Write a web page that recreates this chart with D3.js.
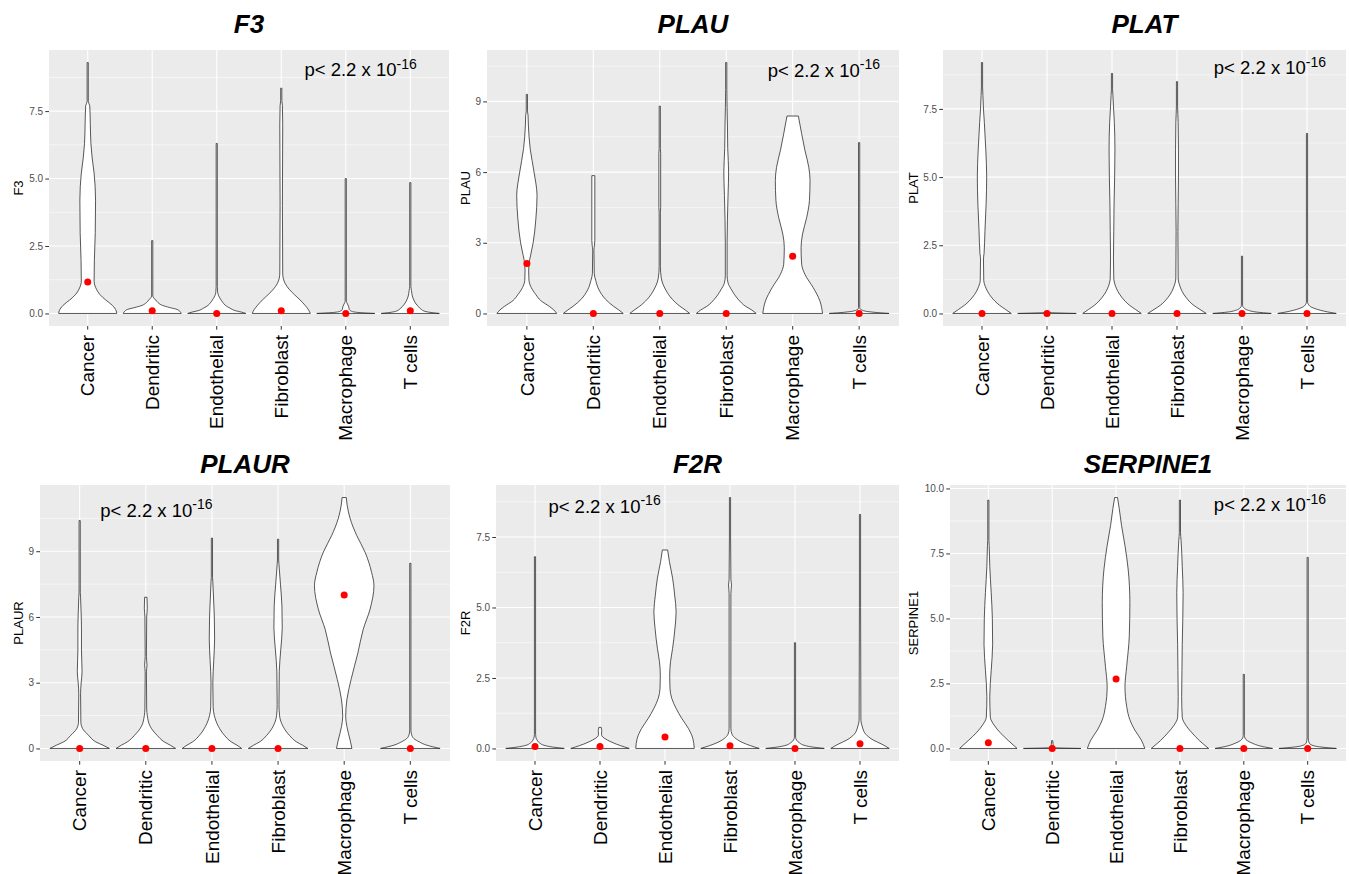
<!DOCTYPE html>
<html>
<head>
<meta charset="utf-8">
<script src="https://cdn.jsdelivr.net/npm/d3@7"></script>
<style>
  body { margin: 0; background: #fff; }
  svg { display: block; font-family: "Liberation Sans", Arial, sans-serif; }
</style>
</head>
<body>
<div id="chart"></div>
<script>
const cellTypes = ["Cancer", "Dendritic", "Endothelial", "Fibroblast", "Macrophage", "T cells"]
const genes = ["F3", "PLAU", "PLAT", "PLAUR", "F2R", "SERPINE1"]

// violin outlines, one per cell type: [expression, relative width (1 = widest)]
const f3Shapes = [
  [[0,1],[0.1,0.98],[0.3,0.85],[0.5,0.62],[0.7,0.42],[0.9,0.3],[1.2,0.22],[2,0.23],[3,0.26],[4.2,0.27],[5.2,0.22],[5.8,0.15],[6.3,0.11],[7,0.09],[7.7,0.07],[7.85,0.02],[9.3,0.02]],
  [[0,1],[0.08,0.95],[0.15,0.85],[0.22,0.6],[0.3,0.35],[0.4,0.2],[0.5,0.12],[0.58,0.05],[0.65,0.02],[2.7,0.02]],
  [[0,1],[0.05,0.85],[0.1,0.65],[0.2,0.45],[0.3,0.3],[0.42,0.2],[0.55,0.12],[0.67,0.06],[0.8,0.03],[1,0.02],[6.3,0.02]],
  [[0,1],[0.15,0.93],[0.3,0.82],[0.5,0.65],[0.7,0.45],[0.9,0.27],[1.1,0.14],[1.3,0.07],[1.5,0.05],[4,0.04],[7,0.05],[7.7,0.04],[7.9,0.02],[8.35,0.02]],
  [[0,1],[0.03,0.5],[0.08,0.2],[0.15,0.12],[0.25,0.1],[0.35,0.06],[0.45,0.02],[5,0.02]],
  [[0,1],[0.03,0.75],[0.08,0.5],[0.15,0.38],[0.25,0.28],[0.35,0.2],[0.5,0.12],[0.65,0.07],[0.85,0.04],[1,0.02],[4.85,0.02]]
]
const plauShapes = [
  [[0,1],[0.15,0.9],[0.3,0.75],[0.55,0.46],[0.8,0.3],[1,0.19],[1.2,0.11],[1.4,0.07],[1.8,0.06],[2.1,0.07],[2.5,0.13],[3,0.21],[4,0.3],[5,0.34],[6,0.24],[7,0.11],[8,0.05],[8.4,0.04],[8.6,0.02],[9.3,0.02]],
  [[0,1],[0.15,0.85],[0.3,0.68],[0.6,0.41],[1,0.19],[1.4,0.08],[1.7,0.03],[2.7,0.02],[2.9,0.04],[3.1,0.05],[5.85,0.05]],
  [[0,1],[0.15,0.85],[0.3,0.68],[0.6,0.42],[1,0.2],[1.5,0.05],[2,0.02],[4.3,0.02],[4.5,0.03],[6.8,0.03],[7,0.02],[8.8,0.02]],
  [[0,1],[0.15,0.85],[0.3,0.65],[0.6,0.4],[1,0.18],[1.3,0.06],[1.6,0.03],[3,0.03],[4,0.04],[5,0.06],[6,0.08],[7,0.05],[8,0.04],[9.5,0.02],[10.65,0.02]],
  [[0,1],[0.53,0.91],[1.09,0.69],[1.66,0.41],[2.09,0.3],[2.8,0.28],[3.37,0.33],[4.08,0.47],[4.79,0.56],[5.64,0.58],[6.2,0.54],[6.92,0.41],[7.63,0.3],[8.38,0.19]],
  [[0,1],[0.05,0.5],[0.1,0.2],[0.15,0.08],[0.2,0.03],[0.25,0.02],[7.25,0.02]]
]
const platShapes = [
  [[0,1],[0.15,0.8],[0.3,0.6],[0.6,0.32],[1,0.11],[1.2,0.06],[2,0.05],[2.2,0.07],[3,0.1],[4,0.14],[5,0.16],[6,0.13],[7,0.08],[7.5,0.05],[8,0.03],[8.3,0.02],[9.2,0.02]],
  [[0,1],[0.02,0.3],[0.04,0.02],[0.06,0.01]],
  [[0,1],[0.15,0.8],[0.3,0.6],[0.6,0.33],[1,0.12],[1.3,0.06],[2,0.05],[3,0.06],[4,0.07],[5,0.09],[6,0.1],[7,0.08],[7.6,0.05],[8,0.03],[8.2,0.02],[8.8,0.02]],
  [[0,1],[0.15,0.78],[0.3,0.57],[0.6,0.3],[1,0.1],[1.3,0.04],[3,0.03],[4,0.04],[5,0.05],[6,0.05],[7,0.04],[7.6,0.02],[8.5,0.02]],
  [[0,1],[0.05,0.5],[0.12,0.2],[0.2,0.07],[0.25,0.03],[0.3,0.02],[2.1,0.02]],
  [[0,1],[0.08,0.6],[0.15,0.35],[0.25,0.12],[0.35,0.04],[0.4,0.02],[6.6,0.02]]
]
const plaurShapes = [
  [[0,1],[0.15,0.78],[0.3,0.54],[0.6,0.3],[0.9,0.1],[1.2,0.04],[2.5,0.03],[3,0.05],[3.5,0.08],[4,0.07],[4.5,0.06],[5.5,0.06],[6.5,0.04],[6.9,0.03],[7.1,0.02],[10.4,0.02]],
  [[0,1],[0.15,0.82],[0.3,0.62],[0.6,0.38],[1,0.15],[1.5,0.05],[1.8,0.03],[3.5,0.02],[3.8,0.04],[4.2,0.02],[6,0.03],[6.4,0.05],[6.9,0.04]],
  [[0,1],[0.15,0.84],[0.3,0.65],[0.6,0.42],[1,0.22],[1.5,0.08],[1.9,0.04],[3,0.03],[4,0.06],[5,0.09],[6,0.08],[7,0.05],[7.6,0.03],[7.8,0.02],[9.6,0.02]],
  [[0,1],[0.15,0.82],[0.3,0.62],[0.6,0.38],[1,0.17],[1.5,0.05],[2,0.03],[3.5,0.04],[4.5,0.09],[5.5,0.14],[6.5,0.13],[7.5,0.08],[8.4,0.03],[8.6,0.02],[9.55,0.02]],
  [[0,0.26],[0.38,0.2],[1,0.09],[1.45,0.05],[2.22,0.09],[3.14,0.23],[4.36,0.46],[5.44,0.64],[6.36,0.87],[7.43,1],[8.04,0.92],[8.96,0.7],[9.72,0.42],[10.49,0.2],[11.1,0.1],[11.45,0.07]],
  [[0,1],[0.15,0.55],[0.3,0.3],[0.45,0.12],[0.6,0.05],[0.7,0.03],[0.8,0.02],[8.45,0.02]]
]
const f2rShapes = [
  [[0,1],[0.05,0.6],[0.1,0.35],[0.2,0.15],[0.3,0.07],[0.4,0.03],[0.5,0.02],[6.8,0.02]],
  [[0,1],[0.1,0.7],[0.2,0.45],[0.3,0.25],[0.4,0.1],[0.5,0.05],[0.6,0.06],[0.75,0.04]],
  [[0,1],[0.36,0.95],[0.71,0.8],[1.07,0.57],[1.42,0.38],[1.78,0.23],[2.13,0.17],[2.6,0.16],[3.08,0.19],[3.55,0.26],[4.26,0.34],[4.85,0.38],[5.44,0.33],[6.04,0.26],[6.63,0.15],[7.04,0.09]],
  [[0,1],[0.1,0.7],[0.2,0.45],[0.35,0.2],[0.5,0.07],[0.7,0.03],[5.5,0.03],[5.8,0.05],[6,0.03],[7.5,0.02],[8.9,0.02]],
  [[0,1],[0.05,0.6],[0.1,0.35],[0.2,0.15],[0.3,0.05],[0.4,0.02],[3.75,0.02]],
  [[0,1],[0.15,0.75],[0.3,0.45],[0.5,0.2],[0.8,0.07],[1,0.03],[5,0.02],[8.3,0.02]]
]
const serpine1Shapes = [
  [[0,1],[0.3,0.7],[0.6,0.42],[0.9,0.2],[1.2,0.07],[2,0.05],[3,0.1],[4,0.15],[5,0.14],[6,0.1],[7,0.05],[7.8,0.03],[8,0.02],[9.55,0.02]],
  [[0,1],[0.03,0.05],[0.3,0.02]],
  [[0,1],[0.32,0.88],[0.71,0.65],[1.1,0.48],[1.61,0.37],[2.39,0.31],[3.16,0.37],[4.32,0.46],[5.61,0.48],[6.9,0.42],[7.8,0.31],[8.58,0.19],[9.23,0.11],[9.65,0.05]],
  [[0,1],[0.3,0.68],[0.6,0.42],[0.9,0.2],[1.2,0.08],[2,0.06],[3,0.07],[4,0.08],[5,0.1],[6,0.11],[7,0.08],[8,0.04],[8.3,0.02],[9.55,0.02]],
  [[0,1],[0.1,0.55],[0.2,0.3],[0.3,0.12],[0.4,0.04],[0.5,0.02],[2.85,0.02]],
  [[0,1],[0.05,0.5],[0.1,0.22],[0.2,0.06],[0.3,0.03],[0.4,0.02],[7.35,0.02]]
]

// red dots (mean expression per cell type)
const f3Means = [1.17, 0.1, 0, 0.1, 0, 0.1]
const plauMeans = [2.12, 0, 0, 0, 2.43, 0]
const platMeans = [0, 0, 0, 0, 0, 0]
const plaurMeans = [0, 0, 0, 0, 7.0, 0]
const f2rMeans = [0.07, 0.07, 0.41, 0.1, 0, 0.17]
const serpine1Means = [0.22, 0, 2.67, 0, 0, 0]

// y tick values
const ticksF3 = [0, 2.5, 5, 7.5]
const ticksPLAU = [0, 3, 6, 9]
const ticksPLAT = [0, 2.5, 5, 7.5]
const ticksPLAUR = [0, 3, 6, 9]
const ticksF2R = [0, 2.5, 5, 7.5]
const ticksSERPINE1 = [0, 2.5, 5, 7.5, 10]

// p-value label anchor: category position (1..6) and expression value
const pvalX = [5.23, 5.47, 5.43, 2.16, 2.07, 5.41]
const pvalY = [8.8, 10.05, 8.77, 10.57, 8.36, 9.12]

const panels = genes.map((g, i) => ({
    gene: g,
    shapes: [f3Shapes, plauShapes, platShapes, plaurShapes, f2rShapes, serpine1Shapes][i],
    means: [f3Means, plauMeans, platMeans, plaurMeans, f2rMeans, serpine1Means][i],
    ticks: [ticksF3, ticksPLAU, ticksPLAT, ticksPLAUR, ticksF2R, ticksSERPINE1][i],
    px: pvalX[i], py: pvalY[i]
}))

// plot rectangles of each panel
const layout = [
    {x0: 49, x1: 449, y0: 50, y1: 326, titleY: 33, yLabX: 18.7, row: 0},
    {x0: 487, x1: 899, y0: 50, y1: 326, titleY: 33, yLabX: 465, row: 0},
    {x0: 943, x1: 1346, y0: 50, y1: 326, titleY: 33, yLabX: 913, row: 0},
    {x0: 40, x1: 450, y0: 485, y1: 761, titleY: 473, yLabX: 18.7, row: 1},
    {x0: 496, x1: 899, y0: 485, y1: 761, titleY: 473, yLabX: 465, row: 1},
    {x0: 950, x1: 1346, y0: 485, y1: 761, titleY: 473, yLabX: 913, row: 1}
]

const svg = d3.select("#chart").append("svg").attr("width", 1349).attr("height", 874)

const defs = svg.append("defs")
defs.append("clipPath").attr("id", "row0").append("rect").attr("x", 0).attr("y", 0).attr("width", 1349).attr("height", 440)
defs.append("clipPath").attr("id", "row1").append("rect").attr("x", 0).attr("y", 440).attr("width", 1349).attr("height", 434)

panels.forEach((p, i) => drawPanel(p, layout[i]))

function drawPanel(p, L){
    const g = svg.append("g").attr("clip-path", `url(#row${L.row})`)

    const maxV = d3.max(p.shapes, s => d3.max(s, d => d[0]))
    const pad = maxV * 0.05
    const y = d3.scaleLinear().domain([-pad, maxV + pad]).range([L.y1, L.y0])
    const x = d3.scaleBand().domain(cellTypes).range([L.x0, L.x1]).paddingInner(0).paddingOuter(0.1)
    const cx = c => x(c) + x.bandwidth() / 2
    const half = x.bandwidth() * 0.45

    g.append("rect").attr("x", L.x0).attr("y", L.y0)
     .attr("width", L.x1 - L.x0).attr("height", L.y1 - L.y0).attr("fill", "#EBEBEB")

    // grid
    const step = p.ticks[1] - p.ticks[0]
    const minor = [p.ticks[0] - step / 2].concat(p.ticks.map(t => t + step / 2))
        .filter(v => v > y.domain()[0] && v < y.domain()[1])
    g.selectAll(".minor").data(minor).enter().append("line")
     .attr("x1", L.x0).attr("x2", L.x1).attr("y1", d => y(d)).attr("y2", d => y(d))
     .attr("stroke", "#fff").attr("stroke-width", 0.55)
    g.selectAll(".major").data(p.ticks).enter().append("line")
     .attr("x1", L.x0).attr("x2", L.x1).attr("y1", d => y(d)).attr("y2", d => y(d))
     .attr("stroke", "#fff").attr("stroke-width", 1.1)
    g.selectAll(".vgrid").data(cellTypes).enter().append("line")
     .attr("x1", d => cx(d)).attr("x2", d => cx(d)).attr("y1", L.y0).attr("y2", L.y1)
     .attr("stroke", "#fff").attr("stroke-width", 1.1)

    // violins
    cellTypes.forEach((c, k) => {
        const area = d3.area().curve(d3.curveMonotoneY)
            .y(d => y(d[0]))
            .x0(d => cx(c) - d[1] * half)
            .x1(d => cx(c) + d[1] * half)
        g.append("path").datum(p.shapes[k]).attr("d", area)
         .attr("fill", "#fff").attr("stroke", "#222").attr("stroke-width", 0.75)
    })

    g.selectAll(".mean").data(p.means).enter().append("circle")
     .attr("cx", (d, k) => cx(cellTypes[k])).attr("cy", d => y(d))
     .attr("r", 3.5).attr("fill", "#FF0000")

    // axes
    const fmt = Number.isInteger(step) ? d3.format("d") : d3.format(".1f")
    const ya = g.append("g").attr("transform", `translate(${L.x0},0)`)
     .call(d3.axisLeft(y).tickValues(p.ticks).tickFormat(fmt).tickSize(3.7).tickPadding(2.2))
    ya.select(".domain").remove()
    ya.selectAll("line").attr("stroke", "#333")
    ya.selectAll("text").attr("fill", "#4D4D4D").attr("font-size", "10px").attr("font-family", "Liberation Sans, Arial, sans-serif")

    const xa = g.append("g").attr("transform", `translate(0,${L.y1})`)
     .call(d3.axisBottom(x).tickSize(3.7))
    xa.select(".domain").remove()
    xa.selectAll("line").attr("stroke", "#333")
    xa.selectAll("text")
     .attr("transform", "rotate(-90)").attr("x", -9).attr("y", 0).attr("dy", "0.35em")
     .attr("text-anchor", "end").attr("fill", "#000").attr("font-size", "19px")
     .attr("font-family", "Liberation Sans, Arial, sans-serif")

    // labels
    g.append("text").attr("x", (L.x0 + L.x1) / 2).attr("y", L.titleY)
     .attr("text-anchor", "middle").attr("font-size", "26px")
     .attr("font-weight", "bold").attr("font-style", "italic").text(p.gene)

    g.append("text").attr("transform", `translate(${L.yLabX},${(L.y0 + L.y1) / 2}) rotate(-90)`)
     .attr("text-anchor", "middle").attr("dy", "0.35em").attr("font-size", "13px").text(p.gene)

    const px = L.x0 + (p.px - 0.4) * x.step()
    const t = g.append("text").attr("x", px).attr("y", y(p.py))
     .attr("text-anchor", "middle").attr("font-size", "18.5px").attr("fill", "#000")
    t.append("tspan").text("p< 2.2 x 10")
    t.append("tspan").attr("dy", -7.5).attr("font-size", "14px").text("-16")
}
</script>
</body>
</html>
